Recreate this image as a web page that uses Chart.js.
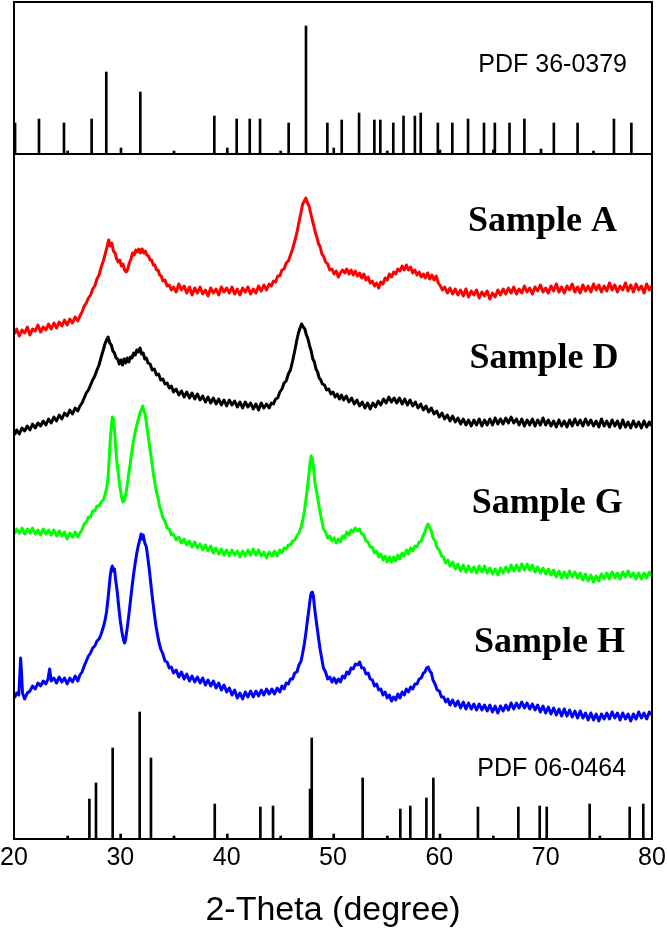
<!DOCTYPE html>
<html>
<head>
<meta charset="utf-8">
<title>XRD patterns</title>
<script src="https://cdn.jsdelivr.net/npm/chart.js@4.4.1/dist/chart.umd.min.js"></script>
<style>
  html, body { margin: 0; padding: 0; background: #fff; }
  #wrap { width: 667px; height: 931px; }
</style>
</head>
<body>
<div id="wrap"><canvas id="xrd" width="667" height="931"></canvas></div>
<script>
// x axis ticks (2-Theta, degree)
const xTicks = [20, 30, 40, 50, 60, 70, 80];

// Reference pattern PDF 36-0379 (top panel): positions and stick heights
const pdf36Pos = [20.1, 22.35, 24.7, 25.05, 27.3, 28.68, 30.06, 31.88, 35.05, 38.84, 40.06, 40.94, 42.17, 43.14, 45.08, 45.83, 47.46, 49.47, 50.07, 50.82, 52.45, 53.89, 54.45, 55.11, 55.67, 56.63, 57.7, 58.25, 59.86, 60.06, 61.22, 62.7, 64.2, 65.08, 65.22, 66.6, 68.0, 69.56, 70.77, 73.0, 74.5, 76.42, 78.06];
const pdf36Int = [31, 35, 31, 3, 35, 82, 6, 62, 3, 38, 6, 35, 35, 35, 3, 31, 128, 31, 6, 34, 41, 34, 34, 3, 31, 38, 38, 41, 31, 4, 31, 35, 31, 4, 31, 31, 35, 5, 31, 31, 3, 35, 31];
const pdf36Base = 685;

// Reference pattern PDF 06-0464 (bottom of main panel)
const pdf06Pos = [25.05, 27.09, 27.71, 29.28, 30.03, 31.82, 32.88, 35.05, 38.88, 40.06, 43.17, 44.36, 45.08, 47.84, 48.0, 50.07, 52.79, 55.11, 56.33, 57.27, 58.78, 59.44, 60.06, 63.63, 65.08, 67.43, 69.44, 70.1, 74.14, 75.1, 77.9, 79.18];
const pdf06Int = [3, 40, 56, 91, 5, 127, 81, 3, 35, 5, 32, 33, 3, 50, 101, 5, 61, 3, 30, 33, 41, 61, 5, 32, 3, 32, 33, 32, 35, 3, 32, 35];

// Sample A (red), [2-theta, intensity a.u.]
const sampleA = [[20.05,505],[20.25,510],[20.5,503],[20.75,509],[21.0,506],[21.25,512],[21.5,504],[21.75,510],[22.0,508],[22.25,514],[22.5,507],[22.75,512],[23.0,509],[23.25,515],[23.5,510],[23.75,516],[24.0,511],[24.25,517],[24.5,513],[24.75,519],[25.0,514],[25.25,520],[25.5,516],[25.75,522],[26.0,518],[26.2,523],[26.4,527],[26.6,533],[26.8,536],[27.0,541],[27.2,544],[27.4,550],[27.6,553],[27.8,560],[28.0,564],[28.2,572],[28.4,578],[28.6,586],[28.75,592],[28.9,599],[29.05,593],[29.2,596],[29.35,588],[29.5,586],[29.65,580],[29.8,577],[29.95,579],[30.1,573],[30.25,575],[30.4,569],[30.55,567],[30.7,570],[30.85,576],[31.0,580],[31.15,586],[31.3,584],[31.45,589],[31.6,587],[31.75,590],[31.9,586],[32.05,590],[32.2,586],[32.35,588],[32.5,584],[32.65,583],[32.8,579],[32.95,579],[33.1,574],[33.25,574],[33.4,569],[33.55,569],[33.7,564],[33.85,563],[34.0,558],[34.2,559],[34.4,553],[34.6,554],[34.8,549],[35.0,552],[35.25,547],[35.5,555],[35.75,549],[36.0,553],[36.25,546],[36.5,552],[36.75,544],[37.0,551],[37.25,546],[37.5,552],[37.75,545],[38.0,549],[38.25,543],[38.5,551],[38.75,546],[39.0,550],[39.25,544],[39.5,552],[39.75,547],[40.0,551],[40.25,546],[40.5,552],[40.75,545],[41.0,550],[41.25,544],[41.5,551],[41.75,547],[42.0,552],[42.25,545],[42.5,550],[42.75,546],[43.0,553],[43.25,548],[43.5,554],[43.75,549],[44.0,555],[44.2,553],[44.4,558],[44.6,557],[44.8,563],[45.0,563],[45.2,569],[45.4,570],[45.6,576],[45.8,578],[46.0,584],[46.2,590],[46.4,598],[46.6,606],[46.8,617],[47.0,627],[47.15,635],[47.3,638],[47.45,641],[47.6,636],[47.75,633],[47.9,626],[48.05,619],[48.2,613],[48.35,606],[48.5,601],[48.65,595],[48.8,592],[48.95,585],[49.1,583],[49.3,577],[49.5,575],[49.7,569],[49.9,570],[50.1,565],[50.3,568],[50.5,562],[50.7,566],[50.9,569],[51.1,566],[51.3,570],[51.5,565],[51.7,569],[51.9,564],[52.1,568],[52.3,563],[52.5,566],[52.7,561],[52.9,565],[53.1,559],[53.3,562],[53.5,556],[53.7,558],[53.9,553],[54.1,556],[54.3,551],[54.5,557],[54.7,555],[54.9,561],[55.1,559],[55.3,565],[55.5,562],[55.7,567],[55.9,565],[56.1,570],[56.3,568],[56.5,573],[56.7,569],[56.9,574],[57.1,569],[57.3,572],[57.5,566],[57.7,569],[57.9,564],[58.1,567],[58.3,562],[58.5,565],[58.7,561],[58.9,566],[59.1,560],[59.3,564],[59.5,559],[59.7,563],[59.9,556],[60.1,553],[60.3,549],[60.5,552],[60.75,546],[61.0,551],[61.25,545],[61.5,550],[61.75,544],[62.0,549],[62.25,543],[62.5,550],[62.75,542],[63.0,548],[63.25,544],[63.5,549],[63.75,541],[64.0,547],[64.25,543],[64.5,548],[64.75,540],[65.0,546],[65.25,542],[65.5,549],[65.75,544],[66.0,550],[66.25,545],[66.5,551],[66.75,546],[67.0,552],[67.25,545],[67.5,550],[67.75,546],[68.0,553],[68.25,547],[68.5,551],[68.75,545],[69.0,552],[69.25,548],[69.5,554],[69.75,547],[70.0,551],[70.25,546],[70.5,553],[70.75,548],[71.0,555],[71.25,547],[71.5,552],[71.75,546],[72.0,553],[72.25,549],[72.5,555],[72.75,547],[73.0,552],[73.25,546],[73.5,554],[73.75,548],[74.0,553],[74.25,547],[74.5,555],[74.75,549],[75.0,554],[75.25,547],[75.5,553],[75.75,548],[76.0,556],[76.25,549],[76.5,554],[76.75,547],[77.0,553],[77.25,549],[77.5,556],[77.75,548],[78.0,554],[78.25,547],[78.5,555],[78.75,549],[79.0,553],[79.25,546],[79.5,555],[79.75,549],[79.95,553]];

// Sample D (black)
const sampleD = [[20.05,404],[20.25,409],[20.5,405],[20.75,411],[21.0,408],[21.25,413],[21.5,409],[21.75,415],[22.0,411],[22.25,416],[22.5,413],[22.75,418],[23.0,414],[23.25,420],[23.5,416],[23.75,422],[24.0,418],[24.25,424],[24.5,420],[24.75,426],[25.0,423],[25.25,429],[25.5,425],[25.75,431],[26.0,428],[26.2,433],[26.4,436],[26.6,441],[26.8,446],[27.0,449],[27.2,454],[27.4,459],[27.6,463],[27.8,469],[28.0,474],[28.2,482],[28.4,489],[28.55,495],[28.7,499],[28.85,502],[29.0,496],[29.15,494],[29.3,488],[29.45,486],[29.6,481],[29.75,480],[29.9,475],[30.05,479],[30.2,474],[30.35,480],[30.5,476],[30.65,481],[30.8,477],[30.95,482],[31.1,481],[31.25,486],[31.4,484],[31.55,489],[31.7,487],[31.85,491],[32.0,485],[32.15,486],[32.3,480],[32.45,481],[32.6,476],[32.8,475],[33.0,469],[33.2,470],[33.4,464],[33.6,465],[33.8,459],[34.0,460],[34.2,455],[34.4,456],[34.6,451],[34.8,453],[35.0,447],[35.25,450],[35.5,444],[35.75,448],[36.0,442],[36.25,447],[36.5,441],[36.75,446],[37.0,440],[37.25,445],[37.5,439],[37.75,443],[38.0,437],[38.25,442],[38.5,436],[38.75,441],[39.0,435],[39.25,440],[39.5,434],[39.75,439],[40.0,433],[40.25,439],[40.5,434],[40.75,438],[41.0,432],[41.25,437],[41.5,431],[41.75,437],[42.0,432],[42.25,436],[42.5,430],[42.75,435],[43.0,429],[43.25,436],[43.5,431],[43.75,435],[44.0,431],[44.2,436],[44.4,435],[44.6,440],[44.8,441],[45.0,447],[45.2,450],[45.4,456],[45.6,458],[45.8,465],[46.0,469],[46.2,478],[46.4,488],[46.6,499],[46.75,506],[46.9,511],[47.05,515],[47.2,512],[47.35,510],[47.5,504],[47.65,500],[47.8,493],[47.95,488],[48.1,480],[48.25,477],[48.4,470],[48.55,467],[48.7,461],[48.85,459],[49.0,455],[49.2,454],[49.4,449],[49.6,450],[49.8,445],[50.0,447],[50.2,442],[50.4,445],[50.6,440],[50.8,444],[51.0,439],[51.25,443],[51.5,437],[51.75,441],[52.0,435],[52.25,439],[52.5,433],[52.75,437],[53.0,431],[53.25,436],[53.5,430],[53.75,436],[54.0,432],[54.25,438],[54.5,434],[54.75,440],[55.0,436],[55.25,442],[55.5,437],[55.75,441],[56.0,436],[56.25,441],[56.5,435],[56.75,440],[57.0,434],[57.25,439],[57.5,433],[57.75,437],[58.0,431],[58.25,435],[58.5,429],[58.75,433],[59.0,427],[59.25,431],[59.5,425],[59.75,428],[60.0,422],[60.25,426],[60.5,420],[60.75,424],[61.0,418],[61.25,423],[61.5,417],[61.75,421],[62.0,415],[62.25,420],[62.5,414],[62.75,419],[63.0,413],[63.25,419],[63.5,414],[63.75,420],[64.0,413],[64.25,419],[64.5,414],[64.75,420],[65.0,414],[65.25,421],[65.5,415],[65.75,420],[66.0,415],[66.25,421],[66.5,416],[66.75,422],[67.0,416],[67.25,420],[67.5,414],[67.75,420],[68.0,413],[68.25,419],[68.5,414],[68.75,420],[69.0,413],[69.25,419],[69.5,414],[69.75,421],[70.0,414],[70.25,419],[70.5,413],[70.75,418],[71.0,412],[71.25,419],[71.5,413],[71.75,418],[72.0,412],[72.25,419],[72.5,413],[72.75,420],[73.0,414],[73.25,419],[73.5,413],[73.75,420],[74.0,414],[74.25,419],[74.5,413],[74.75,418],[75.0,412],[75.25,420],[75.5,413],[75.75,418],[76.0,412],[76.25,419],[76.5,413],[76.75,418],[77.0,411],[77.25,419],[77.5,412],[77.75,417],[78.0,411],[78.25,418],[78.5,412],[78.75,417],[79.0,411],[79.25,418],[79.5,412],[79.75,417],[79.95,413]];

// Sample G (green)
const sampleG = [[20.05,305],[20.25,310],[20.5,306],[20.75,311],[21.0,305],[21.25,310],[21.5,306],[21.75,311],[22.0,305],[22.25,309],[22.5,304],[22.75,310],[23.0,305],[23.25,309],[23.5,304],[23.75,309],[24.0,303],[24.25,308],[24.5,303],[24.75,307],[25.0,300],[25.25,306],[25.5,302],[25.75,307],[26.0,302],[26.2,306],[26.4,309],[26.6,315],[26.8,317],[27.0,322],[27.2,322],[27.4,328],[27.6,328],[27.8,333],[28.0,333],[28.2,337],[28.4,339],[28.55,344],[28.7,350],[28.85,362],[28.95,380],[29.05,398],[29.15,412],[29.25,422],[29.35,420],[29.45,409],[29.55,393],[29.65,380],[29.8,366],[29.95,353],[30.1,343],[30.25,337],[30.35,338],[30.5,344],[30.65,354],[30.8,366],[30.95,377],[31.1,389],[31.25,399],[31.4,407],[31.55,414],[31.7,420],[31.85,426],[32.0,430],[32.1,433],[32.2,429],[32.35,424],[32.5,412],[32.65,401],[32.8,389],[32.95,378],[33.1,366],[33.25,356],[33.4,347],[33.55,341],[33.7,332],[33.85,328],[34.0,321],[34.2,318],[34.4,311],[34.6,310],[34.8,304],[35.0,305],[35.25,299],[35.5,302],[35.75,296],[36.0,300],[36.25,294],[36.5,298],[36.75,292],[37.0,297],[37.25,291],[37.5,295],[37.75,289],[38.0,294],[38.25,288],[38.5,293],[38.75,286],[39.0,291],[39.25,285],[39.5,290],[39.75,284],[40.0,289],[40.25,283],[40.5,289],[40.75,284],[41.0,288],[41.25,282],[41.5,288],[41.75,283],[42.0,289],[42.25,284],[42.5,290],[42.75,284],[43.0,289],[43.25,283],[43.5,287],[43.75,281],[44.0,287],[44.25,283],[44.5,288],[44.75,283],[45.0,289],[45.2,286],[45.4,291],[45.6,290],[45.8,294],[46.0,294],[46.2,298],[46.4,299],[46.6,303],[46.8,306],[47.0,312],[47.15,318],[47.3,327],[47.45,339],[47.6,352],[47.75,366],[47.85,377],[47.95,383],[48.05,381],[48.15,373],[48.25,362],[48.35,353],[48.5,345],[48.65,335],[48.8,326],[48.95,318],[49.1,310],[49.3,307],[49.5,301],[49.7,303],[49.9,298],[50.1,301],[50.3,296],[50.5,300],[50.7,297],[50.9,303],[51.1,301],[51.3,307],[51.5,304],[51.7,309],[51.9,307],[52.1,311],[52.3,308],[52.5,310],[52.7,305],[52.9,304],[53.1,298],[53.3,297],[53.5,292],[53.7,292],[53.9,286],[54.1,288],[54.3,282],[54.5,285],[54.7,279],[54.9,283],[55.1,277],[55.3,282],[55.5,277],[55.7,282],[55.9,278],[56.1,284],[56.3,280],[56.5,286],[56.7,283],[56.9,289],[57.1,285],[57.3,291],[57.5,288],[57.7,293],[57.9,292],[58.1,297],[58.3,298],[58.5,304],[58.65,307],[58.8,312],[58.95,315],[59.1,311],[59.25,308],[59.4,301],[59.6,298],[59.8,291],[60.0,289],[60.2,283],[60.4,282],[60.6,276],[60.8,279],[61.0,273],[61.25,277],[61.5,270],[61.75,275],[62.0,268],[62.25,274],[62.5,267],[62.75,273],[63.0,267],[63.25,272],[63.5,266],[63.75,273],[64.0,267],[64.25,273],[64.5,266],[64.75,271],[65.0,265],[65.25,270],[65.5,264],[65.75,271],[66.0,266],[66.25,272],[66.5,267],[66.75,274],[67.0,268],[67.25,274],[67.5,268],[67.75,275],[68.0,269],[68.25,275],[68.5,269],[68.75,274],[69.0,267],[69.25,272],[69.5,266],[69.75,271],[70.0,265],[70.25,270],[70.5,264],[70.75,269],[71.0,262],[71.25,268],[71.5,261],[71.75,267],[72.0,261],[72.25,268],[72.5,262],[72.75,267],[73.0,261],[73.25,266],[73.5,259],[73.75,265],[74.0,258],[74.25,264],[74.5,257],[74.75,263],[75.0,258],[75.25,265],[75.5,260],[75.75,266],[76.0,260],[76.25,267],[76.5,261],[76.75,266],[77.0,260],[77.25,267],[77.5,262],[77.75,268],[78.0,262],[78.25,266],[78.5,260],[78.75,266],[79.0,260],[79.25,266],[79.5,261],[79.75,267],[79.95,263]];

// Sample H (blue)
const sampleH = [[20.05,141],[20.25,146],[20.45,144],[20.55,165],[20.62,181],[20.7,168],[20.8,146],[21.0,140],[21.25,146],[21.5,148],[21.75,153],[22.0,150],[22.25,156],[22.5,153],[22.75,158],[23.0,155],[23.2,160],[23.35,170],[23.5,158],[23.75,161],[24.0,156],[24.25,162],[24.5,157],[24.75,161],[25.0,155],[25.25,161],[25.5,157],[25.75,163],[26.0,158],[26.2,164],[26.4,167],[26.6,173],[26.8,178],[27.0,183],[27.2,186],[27.4,191],[27.6,193],[27.8,198],[28.0,200],[28.2,205],[28.4,212],[28.55,218],[28.7,227],[28.85,241],[28.95,252],[29.05,263],[29.15,270],[29.25,273],[29.35,268],[29.45,270],[29.55,260],[29.7,248],[29.85,232],[30.0,218],[30.15,207],[30.3,199],[30.4,196],[30.5,200],[30.65,211],[30.8,224],[30.95,238],[31.1,252],[31.25,265],[31.4,276],[31.55,286],[31.7,294],[31.85,300],[31.95,305],[32.05,300],[32.15,304],[32.3,296],[32.45,292],[32.6,280],[32.75,267],[32.9,252],[33.05,238],[33.2,225],[33.35,213],[33.5,204],[33.65,196],[33.8,190],[34.0,185],[34.2,178],[34.4,177],[34.6,171],[34.8,172],[35.0,166],[35.25,169],[35.5,162],[35.75,167],[36.0,160],[36.25,165],[36.5,158],[36.75,163],[37.0,157],[37.25,162],[37.5,156],[37.75,161],[38.0,154],[38.25,159],[38.5,153],[38.75,158],[39.0,151],[39.25,156],[39.5,149],[39.75,154],[40.0,147],[40.25,151],[40.5,144],[40.75,149],[41.0,141],[41.25,146],[41.5,140],[41.75,147],[42.0,142],[42.25,148],[42.5,142],[42.75,148],[43.0,143],[43.25,149],[43.5,144],[43.75,150],[44.0,145],[44.25,150],[44.5,145],[44.75,151],[45.0,147],[45.2,153],[45.4,150],[45.6,156],[45.8,155],[46.0,160],[46.2,160],[46.4,166],[46.6,167],[46.8,174],[47.0,178],[47.15,186],[47.3,195],[47.45,206],[47.6,219],[47.75,231],[47.85,240],[47.95,246],[48.05,247],[48.15,243],[48.25,233],[48.35,224],[48.5,212],[48.65,200],[48.8,189],[48.95,180],[49.1,171],[49.3,167],[49.5,160],[49.7,162],[49.9,157],[50.1,161],[50.3,156],[50.5,160],[50.7,157],[50.9,163],[51.1,161],[51.3,167],[51.5,165],[51.7,171],[51.9,170],[52.1,175],[52.3,174],[52.5,177],[52.7,171],[52.9,171],[53.1,165],[53.3,166],[53.5,160],[53.7,159],[53.9,153],[54.1,155],[54.3,149],[54.5,150],[54.7,144],[54.9,147],[55.1,141],[55.3,144],[55.5,138],[55.7,142],[55.9,139],[56.1,145],[56.3,141],[56.5,147],[56.7,144],[56.9,150],[57.1,147],[57.3,152],[57.5,150],[57.7,155],[57.9,155],[58.1,160],[58.3,161],[58.5,166],[58.65,167],[58.8,171],[58.95,172],[59.1,168],[59.25,166],[59.4,159],[59.6,155],[59.8,149],[60.0,148],[60.2,142],[60.4,142],[60.6,137],[60.8,140],[61.0,134],[61.25,139],[61.5,133],[61.75,138],[62.0,131],[62.25,137],[62.5,130],[62.75,136],[63.0,130],[63.25,135],[63.5,129],[63.75,135],[64.0,129],[64.25,134],[64.5,128],[64.75,134],[65.0,127],[65.25,133],[65.5,126],[65.75,133],[66.0,128],[66.25,134],[66.5,129],[66.75,136],[67.0,130],[67.25,136],[67.5,131],[67.75,137],[68.0,131],[68.25,136],[68.5,130],[68.75,135],[69.0,129],[69.25,134],[69.5,127],[69.75,133],[70.0,126],[70.25,132],[70.5,125],[70.75,131],[71.0,124],[71.25,130],[71.5,123],[71.75,130],[72.0,123],[72.25,129],[72.5,122],[72.75,128],[73.0,121],[73.25,128],[73.5,121],[73.75,126],[74.0,119],[74.25,126],[74.5,119],[74.75,125],[75.0,118],[75.25,125],[75.5,120],[75.75,126],[76.0,120],[76.25,127],[76.5,121],[76.75,126],[77.0,119],[77.25,126],[77.5,120],[77.75,125],[78.0,118],[78.25,125],[78.5,120],[78.75,127],[79.0,121],[79.25,126],[79.5,120],[79.75,127],[79.95,124]];

// Labels placed in data coordinates
const sampleLabels = [
  { text: 'Sample A', x: 69.7, y: 608 },
  { text: 'Sample D', x: 69.85, y: 471 },
  { text: 'Sample G', x: 70.15, y: 326 },
  { text: 'Sample H', x: 70.35, y: 187 }
];
const pdfLabels = [
  { text: 'PDF 36-0379', x: 77.65, y: 774 },
  { text: 'PDF 06-0464', x: 77.56, y: 69.5 }
];

function toPoints(arr) {
  return arr.map(p => ({ x: p[0], y: p[1] }));
}

function sticks(pos, ints, base) {
  return pos.map((p, i) => ({ x: p, y: [base, base + ints[i]] }));
}

// Frame around both panels + separator line, and text labels
const framePlugin = {
  id: 'frame',
  afterDatasetsDraw(chart) {
    const { ctx, chartArea: a, scales } = chart;
    const sepY = scales.y.getPixelForValue(pdf36Base);
    ctx.save();
    ctx.strokeStyle = '#000';
    ctx.lineWidth = 2;
    ctx.strokeRect(a.left, a.top, a.right - a.left, a.bottom - a.top);
    ctx.beginPath();
    ctx.moveTo(a.left, sepY);
    ctx.lineTo(a.right, sepY);
    ctx.stroke();

    ctx.fillStyle = '#000';
    ctx.textBaseline = 'alphabetic';
    ctx.textAlign = 'center';
    ctx.font = 'bold 36px "Liberation Serif", "Times New Roman", serif';
    sampleLabels.forEach(l => {
      ctx.fillText(l.text, scales.x.getPixelForValue(l.x), scales.y.getPixelForValue(l.y));
    });

    ctx.textAlign = 'right';
    ctx.textBaseline = 'middle';
    ctx.font = '25px "Liberation Sans", Arial, sans-serif';
    pdfLabels.forEach(l => {
      ctx.fillText(l.text, scales.x.getPixelForValue(l.x), scales.y.getPixelForValue(l.y));
    });
    ctx.restore();
  }
};

const lineStyle = { borderWidth: 3, borderJoinStyle: 'round', pointRadius: 0, tension: 0 };

const ctx = document.getElementById('xrd').getContext('2d');
const xrdChart = new Chart(ctx, {
  type: 'line',
  data: {
    datasets: [
      { type: 'bar', label: 'PDF 36-0379', data: sticks(pdf36Pos, pdf36Int, pdf36Base), backgroundColor: '#000', barThickness: 2, grouped: false },
      { type: 'bar', label: 'PDF 06-0464', data: sticks(pdf06Pos, pdf06Int, 0), backgroundColor: '#000', barThickness: 2, grouped: false },
      { label: 'Sample A', data: toPoints(sampleA), borderColor: '#ff0000', ...lineStyle },
      { label: 'Sample D', data: toPoints(sampleD), borderColor: '#000000', ...lineStyle },
      { label: 'Sample G', data: toPoints(sampleG), borderColor: '#00ff00', ...lineStyle },
      { label: 'Sample H', data: toPoints(sampleH), borderColor: '#0000ff', ...lineStyle }
    ]
  },
  options: {
    responsive: false,
    animation: false,
    devicePixelRatio: 1,
    layout: { padding: { top: 2, left: 14, right: 15, bottom: 0 } },
    plugins: {
      legend: { display: false },
      tooltip: { enabled: false }
    },
    scales: {
      x: {
        type: 'linear',
        min: 20,
        max: 80,
        offset: false,
        grid: { display: false, drawTicks: false },
        border: { display: false },
        afterBuildTicks: scale => { scale.ticks = xTicks.map(v => ({ value: v })); },
        afterFit: scale => {
          scale.height = 92;
          scale.paddingLeft = 0;
          scale.paddingRight = 0;
        },
        ticks: {
          color: '#000',
          padding: 4,
          maxRotation: 0,
          font: { family: '"Liberation Sans", Arial, sans-serif', size: 25 }
        },
        title: {
          display: true,
          text: '2-Theta (degree)',
          color: '#000',
          padding: { top: 0, bottom: 0 },
          font: { family: '"Liberation Sans", Arial, sans-serif', size: 34 }
        }
      },
      y: {
        display: false,
        min: 0,
        max: 837
      }
    }
  },
  plugins: [framePlugin]
});
</script>
</body>
</html>
